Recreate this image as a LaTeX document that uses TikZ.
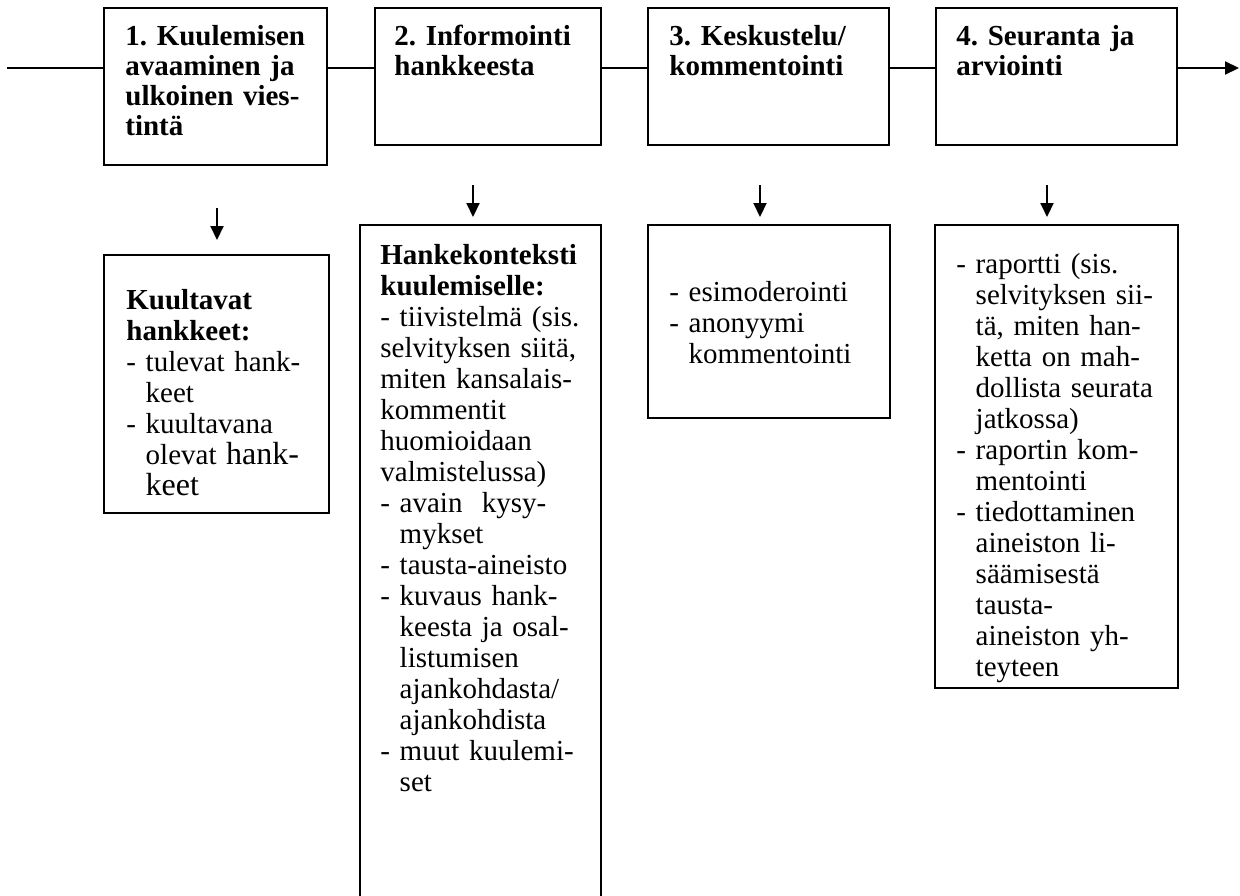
\documentclass[tikz,border=0pt]{standalone}
\usepackage{fontspec}
\setmainfont{Liberation Serif}
\usetikzlibrary{arrows.meta,fit}
\newcommand\myind{\hphantom{- }}
\frenchspacing
\begin{document}
\begin{tikzpicture}[x=0.5pt,y=-0.5pt,
  boxline/.style={draw,line width=1pt,inner sep=0pt},
  txt/.style={anchor=base west,inner sep=0pt,align=left,text width=125pt,font=\frenchspacing\fontsize{14.5pt}{15.5pt}\selectfont},
  ttl/.style={txt,font=\frenchspacing\bfseries\fontsize{14.5pt}{15pt}\selectfont},
  flow/.style={line width=1pt},
  tip/.style={-{Triangle[length=7pt,width=6.5pt]}},
  down/.style={line width=1pt,-{Triangle[length=7pt,width=6.5pt]}}
]
\clip (0,0) rectangle (1240,895);
\fill[white] (0,0) rectangle (1240,895);

% top boxes
\node[boxline,fit={(104,8) (327,165)}] (b1) {};
\node[boxline,fit={(375,8) (601,145)}] (b2) {};
\node[boxline,fit={(648,8) (889,145)}] (b3) {};
\node[boxline,fit={(936,8) (1177,145)}] (b4) {};

\node[ttl] (t1) at (125,45) {1. Kuulemisen\\avaaminen ja\\ulkoinen vies-\\tintä};
\node[ttl] (t2) at (394,45) {2. Informointi\\hankkeesta};
\node[ttl] (t3) at (669,45) {3. Keskustelu/\\kommentointi};
\node[ttl] (t4) at (956,45) {4. Seuranta ja\\arviointi};

% flow line
\coordinate (in) at (7,68);
\coordinate (out) at (1239,68);
\draw[flow] (in) -- (in -| b1.west);
\draw[flow] (b1.east |- in) -- (b2.west |- in);
\draw[flow] (b2.east |- in) -- (b3.west |- in);
\draw[flow] (b3.east |- in) -- (b4.west |- in);
\draw[flow,tip] (b4.east |- in) -- (out);

% lower boxes
\node[boxline,fit={(104,255) (329,513)}] (l1) {};
\node[boxline,fit={(360,225) (601,930)}] (l2) {};
\node[boxline,fit={(648,225) (890,418)}] (l3) {};
\node[boxline,fit={(935,225) (1178,688)}] (l4) {};

% down arrows
\coordinate (d1s) at (217,208); \coordinate (d1e) at (217,240);
\coordinate (d2s) at (473,185); \coordinate (d2e) at (473,217);
\coordinate (d3s) at (760,185); \coordinate (d3e) at (760,217);
\coordinate (d4s) at (1047,185); \coordinate (d4e) at (1047,217);
\draw[down] (d1s) -- (d1e);
\draw[down] (d2s) -- (d2e);
\draw[down] (d3s) -- (d3e);
\draw[down] (d4s) -- (d4e);

\node[txt] (m1) at (126,309) {\textbf{Kuultavat\\hankkeet:}\\- tulevat hank-\\\myind keet\\- kuultavana\\\myind olevat {\fontsize{16pt}{15.5pt}\selectfont hank-}\\\myind {\fontsize{16pt}{15.5pt}\selectfont keet}};
\node[txt] (m2) at (380,264) {\textbf{Hankekonteksti\\kuulemiselle:}\\- tiivistelmä (sis.\\selvityksen siitä,\\miten kansalais-\\kommentit\\huomioidaan\\valmistelussa)\\- avain\ \ kysy-\\\myind mykset\\- tausta-aineisto\\- kuvaus hank-\\\myind keesta ja osal-\\\myind listumisen\\\myind ajankohdasta/\\\myind ajankohdista\\- muut kuulemi-\\\myind set};
\node[txt] (m3) at (669,301) {- esimoderointi\\- anonyymi\\\myind kommentointi};
\node[txt] (m4) at (956,273) {- raportti (sis.\\\myind selvityksen sii-\\\myind tä, miten han-\\\myind ketta on mah-\\\myind dollista seurata\\\myind jatkossa)\\- raportin kom-\\\myind mentointi\\- tiedottaminen\\\myind aineiston li-\\\myind säämisestä\\\myind tausta-\\\myind aineiston yh-\\\myind teyteen};
\end{tikzpicture}
\end{document}
